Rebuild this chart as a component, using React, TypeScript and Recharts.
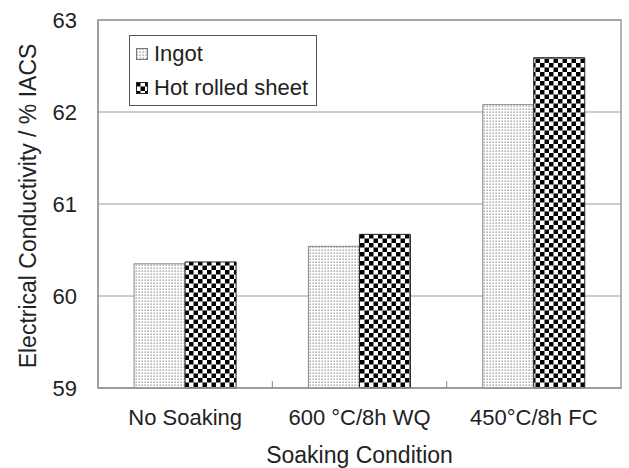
import React from 'react';
import { BarChart, Bar, XAxis, YAxis, CartesianGrid, ReferenceArea } from 'recharts';

const categories = ['No Soaking', '600 °C/8h WQ', '450°C/8h FC'];
const ingot = [60.35, 60.54, 62.08];
const hotRolledSheet = [60.37, 60.67, 62.59];
const yTicks = [59, 60, 61, 62, 63];
const seriesNames = ['Ingot', 'Hot rolled sheet'];

const data = categories.map((c, i) => ({ name: c, ingot: ingot[i], sheet: hotRolledSheet[i] }));

const FONT = '"Liberation Sans", Arial, sans-serif';
const TEXT = '#222';

const PatternDefs = ({ suffix }: { suffix: string }) => (
  <defs>
    <pattern id={`dots${suffix}`} width="3" height="3" patternUnits="userSpaceOnUse">
      <rect width="3" height="3" fill="#fff" />
      <rect x="0.5" y="0.5" width="1.3" height="1.3" fill="#8c8c8c" />
    </pattern>
    <pattern id={`checker${suffix}`} width="9" height="9" patternUnits="userSpaceOnUse">
      <rect width="9" height="9" fill="#fff" />
      <rect x="0" y="0" width="4.5" height="4.5" fill="#000" />
      <rect x="4.5" y="4.5" width="4.5" height="4.5" fill="#000" />
    </pattern>
  </defs>
);

const XTick = (props: any) => {
  const { x, y, payload, index } = props;
  const off = payload && payload.offset ? payload.offset : 0;
  const axisY = y - 14;
  return (
    <g>
      <text x={x} y={y} dy={23} textAnchor="middle" fill={TEXT} fontSize={22} fontFamily={FONT}>
        {payload.value}
      </text>
      {index < categories.length - 1 && off > 0 ? (
        <line x1={x + off} x2={x + off} y1={axisY} y2={axisY - 7} stroke="#888" strokeWidth={1} />
      ) : null}
    </g>
  );
};

const YLabel = (props: any) => {
  const vb = props.viewBox || {};
  const cx = (vb.x || 0) + 28;
  const cy = (vb.y || 0) + (vb.height || 0) / 2 + 2;
  return (
    <text
      x={cx}
      y={cy}
      transform={`rotate(-90, ${cx}, ${cy})`}
      textAnchor="middle"
      dominantBaseline="central"
      fill={TEXT}
      fontSize={23}
      fontFamily={FONT}
    >
      Electrical Conductivity / % IACS
    </text>
  );
};

const LegendBox = () => (
  <div
    style={{
      position: 'absolute',
      left: 129,
      top: 35,
      border: '1.5px solid #555',
      background: '#fff',
      width: 186,
      height: 69,
      boxSizing: 'content-box',
      fontFamily: FONT,
      fontSize: 22,
      color: TEXT,
    }}
  >
    {seriesNames.map((n, i) => (
      <div key={n} style={{ display: 'flex', alignItems: 'center', height: 34, marginTop: i === 0 ? 1 : 0 }}>
        <svg width={12} height={12} style={{ marginLeft: 6, marginRight: 6 }}>
          <PatternDefs suffix={`L${i}`} />
          <rect x={0.5} y={0.5} width={11} height={11} fill={`url(#${i === 0 ? 'dots' : 'checker'}L${i})`} stroke={i === 0 ? '#777' : '#222'} />
        </svg>
        <span style={{ lineHeight: '22px' }}>{n}</span>
      </div>
    ))}
  </div>
);

export default function App() {
  return (
    <div style={{ position: 'absolute', left: 0, top: 0, width: 629, height: 468, background: '#fff' }}>
      <BarChart
        width={629}
        height={468}
        data={data}
        margin={{ top: 20, right: 8, bottom: 0, left: 0 }}
        barCategoryGap="20.7%"
        barGap={0}
      >
        <PatternDefs suffix="" />
        <CartesianGrid vertical={false} stroke="#999" strokeWidth={1.2} />
        <ReferenceArea y1={59} y2={63} fill="none" stroke="#999" strokeWidth={1.5} ifOverflow="visible" />
        <XAxis
          dataKey="name"
          height={80}
          axisLine={{ stroke: '#999', strokeWidth: 1.5 }}
          tickLine={false}
          tickSize={0}
          tickMargin={14}
          tick={<XTick />}
          interval={0}
          label={{ value: 'Soaking Condition', position: 'insideBottom', offset: 5, fill: TEXT, fontSize: 23, fontFamily: FONT }}
        />
        <YAxis
          domain={[59, 63]}
          ticks={yTicks}
          width={98}
          axisLine={{ stroke: '#999', strokeWidth: 1.5 }}
          tickLine={false}
          tickSize={0}
          tickMargin={21}
          tick={{ fill: TEXT, fontSize: 22, fontFamily: FONT }}
          label={<YLabel />}
        />
        <Bar dataKey="ingot" name={seriesNames[0]} fill="url(#dots)" stroke="#888" strokeWidth={1} isAnimationActive={false} />
        <Bar dataKey="sheet" name={seriesNames[1]} fill="url(#checker)" stroke="#222" strokeWidth={1} isAnimationActive={false} />
      </BarChart>
      <LegendBox />
    </div>
  );
}
